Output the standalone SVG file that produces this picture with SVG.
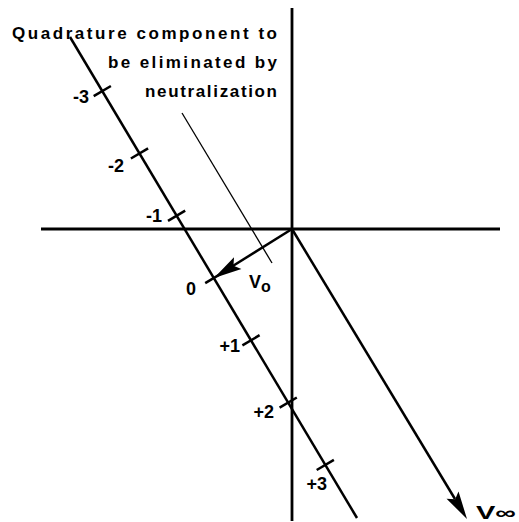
<svg xmlns="http://www.w3.org/2000/svg" xmlns:xlink="http://www.w3.org/1999/xlink" width="519" height="522" viewBox="0 0 519 522">
<style>
.ax{stroke:#000;stroke-width:2.8;fill:none}
.ln{stroke:#000;stroke-width:2.5;fill:none}
.tk{stroke:#000;stroke-width:2.5;fill:none}
.thin{stroke:#000;stroke-width:1.3;fill:none}
.lbl{font-family:"Liberation Sans",Arial,sans-serif;font-weight:bold;font-size:18px;fill:#000}
.cap{font-family:"Liberation Sans",Arial,sans-serif;font-weight:bold;font-size:17px;fill:#000}
</style>
<defs>
<path id="head" d="M0,0 L-28,-7 L-23,0 L-28,7 Z" fill="#000"/>
</defs>
<rect width="519" height="522" fill="#fff"/>
<g id="axes">
<line class="ax" x1="292" y1="8" x2="292" y2="521"/>
<line class="ax" x1="41" y1="229" x2="500" y2="229"/>
</g>
<g id="connectors">
<line class="ln" x1="70" y1="37" x2="357" y2="518"/>
<line class="thin" x1="182" y1="113" x2="272" y2="263"/>
<line class="ln" x1="292" y1="229" x2="228" y2="269"/>
<use xlink:href="#head" transform="translate(214,278) rotate(147.9)"/>
<line class="ln" x1="292" y1="229" x2="455" y2="499"/>
<use xlink:href="#head" transform="translate(467,519) rotate(58.9)"/>
</g>
<g id="ticks">
<line class="tk" x1="93.7" y1="96.2" x2="110.9" y2="86.0"/>
<line class="tk" x1="130.9" y1="158.5" x2="148.1" y2="148.3"/>
<line class="tk" x1="168.0" y1="220.8" x2="185.2" y2="210.6"/>
<line class="tk" x1="205.2" y1="283.1" x2="222.4" y2="272.9"/>
<line class="tk" x1="242.4" y1="345.4" x2="259.6" y2="335.2"/>
<line class="tk" x1="279.6" y1="407.7" x2="296.8" y2="397.5"/>
<line class="tk" x1="316.7" y1="470.0" x2="333.9" y2="459.8"/>
</g>
<g id="tick-labels">
<text class="lbl" x="89" y="103" text-anchor="end">-3</text>
<text class="lbl" x="124" y="172" text-anchor="end">-2</text>
<text class="lbl" x="162" y="222" text-anchor="end">-1</text>
<text class="lbl" x="196" y="295" text-anchor="end">0</text>
<text class="lbl" x="240" y="352" text-anchor="end">+1</text>
<text class="lbl" x="274" y="418" text-anchor="end">+2</text>
<text class="lbl" x="327" y="490" text-anchor="end">+3</text>
</g>
<g id="note">
<text class="cap" x="12" y="39" textLength="265" lengthAdjust="spacing">Quadrature component to</text>
<text class="cap" x="108" y="68" textLength="169" lengthAdjust="spacing">be eliminated by</text>
<text class="cap" x="145" y="97" textLength="132" lengthAdjust="spacing">neutralization</text>
</g>
<g id="vo-label">
<text class="lbl" x="249" y="288">V<tspan font-size="16" dy="4">o</tspan></text>
</g>
<g id="vinf-label">
<text class="lbl" x="476" y="519" textLength="40" lengthAdjust="spacingAndGlyphs">V∞</text>
</g>
</svg>
